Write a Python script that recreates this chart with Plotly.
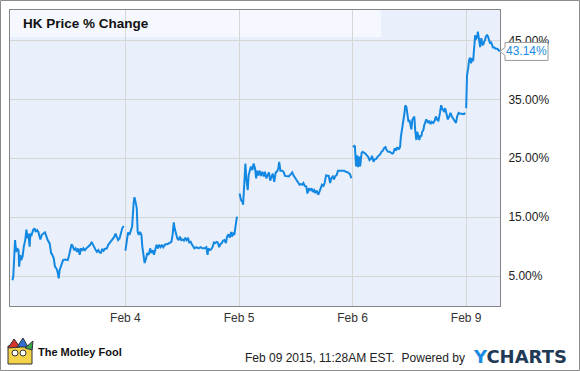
import plotly.graph_objects as go

# ---------------- data ----------------
day_labels = ["Feb 3", "Feb 4", "Feb 5", "Feb 6", "Feb 9"]
tick_labels = ["Feb 4", "Feb 5", "Feb 6", "Feb 9"]
session_minutes = 390  # 9:30 - 16:00

feb3_min = [2, 5, 11, 15, 18, 23, 25, 29, 32, 37, 41, 46, 50, 54, 57, 61, 64, 68, 73, 78, 82, 87, 91, 95, 98,
            103, 110, 114, 119, 123, 130, 135, 139, 144, 148, 153, 157, 161, 164, 169, 176, 183, 192, 196, 201,
            205, 210, 214, 219, 224, 228, 233, 237, 242, 246, 251, 256, 262, 269, 274, 278, 283, 288, 292, 297,
            301, 306, 310, 315, 319, 326, 331, 338, 345, 351, 356, 360, 365, 370, 374, 379, 384]
feb3_pct = [4.3, 4.9, 11.1, 9.1, 9.7, 9.4, 6.6, 8.6, 7.7, 8.3, 10.0, 11.1, 12.9, 11.4, 12.2, 10.0, 12.2, 12.0, 12.8,
            13.1, 12.5, 12.8, 12.5, 11.4, 11.2, 12.0, 12.2, 12.4, 11.7, 11.1, 10.5, 8.9, 8.6, 8.0, 6.6, 6.3, 5.7,
            4.6, 6.0, 6.7, 7.7, 7.8, 7.7, 8.4, 9.4, 10.4, 10.0, 9.4, 9.7, 9.1, 9.7, 8.6, 9.7, 9.3, 9.7, 9.4, 9.7,
            10.0, 10.3, 10.8, 10.3, 9.7, 9.4, 9.1, 9.4, 9.0, 8.95, 9.6, 9.3, 9.6, 9.7, 10.3, 10.8, 11.1, 11.6,
            12.2, 11.7, 11.1, 11.4, 12.2, 13.1, 13.5]

feb4_min = [0, 5, 9, 14, 18, 23, 28, 31, 36, 39, 42, 46, 50, 55, 58, 62, 66, 71, 75, 80, 85, 89, 94, 98, 103, 107,
            112, 116, 121, 126, 130, 137, 144, 151, 158, 162, 166, 169, 173, 178, 183, 187, 192, 196, 201, 205,
            210, 215, 219, 224, 228, 233, 237, 244, 251, 258, 265, 272, 278, 282, 285, 290, 294, 299, 304, 308,
            313, 317, 322, 326, 331, 335, 340, 345, 349, 354, 358, 363, 366, 370, 374, 378, 381, 383]
feb4_pct = [9.3, 11.1, 12.4, 12.0, 12.5, 13.4, 17.3, 18.4, 17.3, 16.5, 12.5, 12.0, 12.5, 12.0, 10.0, 8.3, 7.2, 8.0,
            8.9, 8.6, 9.7, 8.9, 9.4, 8.6, 9.7, 10.3, 9.7, 10.3, 9.9, 10.3, 9.9, 10.4, 10.4, 10.6, 10.8, 12.0, 14.1,
            13.1, 12.1, 11.4, 11.1, 11.7, 11.1, 11.2, 11.0, 11.5, 11.1, 11.5, 10.7, 10.8, 10.4, 10.1, 9.7, 9.9,
            9.7, 9.9, 9.7, 9.7, 9.9, 8.6, 9.7, 9.4, 9.5, 9.9, 10.7, 10.6, 10.8, 10.7, 9.9, 10.4, 10.6, 11.0, 11.1,
            10.6, 11.7, 12.1, 11.5, 12.5, 11.7, 12.2, 12.0, 13.4, 14.8, 15.1]

feb5_min = [2, 7, 12, 14, 18, 22, 25, 30, 33, 37, 41, 46, 50, 55, 59, 62, 66, 71, 75, 80, 85, 89, 94, 98, 103, 107,
            112, 116, 121, 126, 130, 135, 138, 142, 148, 153, 158, 164, 171, 178, 183, 187, 194, 199, 203, 208,
            212, 217, 221, 226, 231, 235, 240, 244, 249, 253, 258, 262, 267, 272, 276, 281, 285, 290, 294, 299,
            304, 308, 313, 317, 322, 326, 331, 335, 340, 347, 354, 361, 367, 374, 381, 386]
feb5_pct = [19.0, 17.9, 17.6, 17.1, 20.5, 24.1, 21.6, 19.6, 22.1, 23.1, 23.6, 23.0, 24.1, 23.3, 21.6, 22.9, 22.1,
            22.9, 22.0, 22.7, 21.9, 22.7, 21.6, 22.1, 22.6, 21.2, 22.1, 22.4, 21.0, 22.6, 22.7, 23.3, 24.4, 22.9,
            22.9, 22.7, 22.0, 21.9, 21.9, 22.3, 22.6, 22.1, 21.6, 21.3, 20.8, 20.5, 20.6, 20.5, 20.8, 20.3, 20.2,
            19.0, 19.9, 19.6, 19.9, 19.3, 19.6, 19.1, 19.5, 18.8, 19.3, 20.2, 20.5, 20.3, 20.8, 22.1, 22.1, 22.0,
            20.8, 21.6, 21.9, 21.4, 22.0, 22.1, 22.9, 22.9, 22.9, 22.9, 22.7, 22.6, 22.3, 21.6]

feb6_min = [1, 6, 8, 12, 16, 19, 23, 26, 31, 35, 40, 44, 49, 54, 58, 63, 67, 72, 76, 81, 85, 90, 95, 99, 104, 108,
            113, 117, 122, 127, 131, 136, 140, 145, 149, 154, 158, 163, 166, 170, 174, 178, 181, 185, 188, 192,
            195, 198, 202, 205, 209, 212, 215, 219, 222, 226, 229, 233, 236, 239, 243, 246, 250, 253, 257, 260,
            263, 268, 272, 277, 282, 286, 291, 295, 300, 304, 309, 314, 318, 323, 327, 332, 336, 341, 345, 350,
            355, 359, 364, 368, 375, 382, 387]
feb6_pct = [26.9, 27.1, 27.0, 23.6, 25.5, 23.5, 25.3, 23.6, 25.9, 26.1, 25.9, 25.8, 25.5, 25.2, 24.7, 24.9, 25.4,
            24.4, 24.8, 24.9, 25.2, 25.4, 25.7, 26.1, 26.3, 26.7, 26.9, 26.4, 26.1, 26.1, 25.9, 25.8, 25.9, 26.7,
            26.3, 26.9, 26.5, 26.9, 28.7, 29.8, 31.5, 32.6, 34.0, 33.7, 32.6, 31.2, 31.5, 30.6, 29.9, 31.5, 31.8,
            32.1, 29.8, 28.1, 29.5, 28.4, 28.1, 28.9, 28.7, 29.5, 29.8, 30.6, 31.2, 31.6, 31.2, 31.0, 31.4, 30.8,
            31.2, 31.0, 31.4, 32.1, 31.5, 31.4, 32.7, 34.0, 33.3, 33.0, 33.5, 32.6, 31.6, 32.1, 32.7, 32.1, 31.8,
            31.5, 31.0, 32.1, 32.7, 32.6, 32.5, 32.5, 32.7]

feb9_min = [0, 1, 3, 7, 10, 14, 17, 20, 24, 26, 28, 31, 33, 35, 38, 40, 42, 46, 48, 50, 52, 55, 58, 62, 65, 68, 72,
            75, 79, 82, 85, 89, 92, 97, 101, 106, 109, 115]
feb9_pct = [33.5, 37.2, 39.1, 40.3, 41.7, 42.1, 41.1, 42.0, 41.5, 42.8, 45.1, 45.9, 45.1, 45.7, 45.4, 46.5, 45.9,
            44.8, 43.9, 44.5, 45.4, 44.5, 44.2, 44.8, 45.1, 45.7, 45.9, 45.7, 45.1, 44.5, 44.8, 44.1, 43.8, 43.8,
            43.6, 43.6, 43.5, 43.14]

y_ticks = [5, 15, 25, 35, 45]
last_value = 43.14

# ---------------- build series ----------------
days_min = [feb3_min, feb4_min, feb5_min, feb6_min, feb9_min]
days_pct = [feb3_pct, feb4_pct, feb5_pct, feb6_pct, feb9_pct]
xs, ys = [], []
for d, (mins, pcts) in enumerate(zip(days_min, days_pct)):
    if d > 0:
        xs.append(None)
        ys.append(None)
    for m, p in zip(mins, pcts):
        xs.append(d * session_minutes + m)
        ys.append(p)

W, H = 580, 371
ML, MR, MT, MB = 10, 80, 10, 65
PW, PH = W - ML - MR, H - MT - MB
Y0, Y1 = -0.09, 50.18


def px(x):
    return (x - ML) / PW


def py(y):
    return (H - MB - y) / PH


line_color = "#1388e3"
fig = go.Figure()
fig.add_trace(go.Scatter(x=xs, y=ys, mode="lines", line=dict(color=line_color, width=2),
                         connectgaps=False, hoverinfo="skip", showlegend=False))

shapes = []
# title band
shapes.append(dict(type="rect", xref="paper", yref="paper", x0=0, x1=px(381), y0=py(37), y1=1,
                   fillcolor="#f5f8fe", line=dict(width=0), layer="below"))
# outer border
shapes.append(dict(type="rect", xref="paper", yref="paper", x0=px(0.5), x1=px(W - 0.5), y0=py(H - 0.5),
                   y1=py(0.5), line=dict(color="#8c8c8c", width=1), fillcolor="rgba(0,0,0,0)", layer="above"))
# last-value callout
yv = (last_value - Y0) / (Y1 - Y0)
shapes.append(dict(type="path", xref="paper", yref="paper", xsizemode="pixel", ysizemode="pixel",
                   xanchor=1.0, yanchor=yv,
                   path="M0,0 L5,4 L5,9 L48,9 L48,-9 L5,-9 L5,-4 Z",
                   fillcolor="white", line=dict(color="#9a9a9a", width=1), layer="above"))
# simple jester logo
shapes += [
    dict(type="rect", xref="paper", yref="paper", x0=px(8), x1=px(32), y0=py(364), y1=py(346),
         fillcolor="#f4d24a", line=dict(color="#333", width=1), layer="above"),
    dict(type="path", xref="paper", yref="paper",
         path=f"M {px(8)},{py(348)} L {px(14)},{py(339)} L {px(20)},{py(347)} Z",
         fillcolor="#d8342c", line=dict(color="#333", width=1), layer="above"),
    dict(type="path", xref="paper", yref="paper",
         path=f"M {px(17)},{py(347)} L {px(23)},{py(338)} L {px(28)},{py(347)} Z",
         fillcolor="#2f6fd0", line=dict(color="#333", width=1), layer="above"),
    dict(type="path", xref="paper", yref="paper",
         path=f"M {px(25)},{py(348)} L {px(33)},{py(341)} L {px(32)},{py(350)} Z",
         fillcolor="#3aa64a", line=dict(color="#333", width=1), layer="above"),
    dict(type="circle", xref="paper", yref="paper", x0=px(12), x1=px(18), y0=py(356), y1=py(350),
         fillcolor="white", line=dict(color="#333", width=1), layer="above"),
    dict(type="circle", xref="paper", yref="paper", x0=px(20), x1=px(26), y0=py(356), y1=py(350),
         fillcolor="white", line=dict(color="#333", width=1), layer="above"),
]

annotations = [
    dict(xref="paper", yref="paper", x=px(21), y=py(24), xanchor="left", yanchor="middle",
         text="<b>HK Price % Change</b>", showarrow=False,
         font=dict(family="Liberation Sans, Arial", size=13.5, color="#111")),
    dict(xref="paper", yref="paper", x=1.0, y=yv, xshift=26.5, xanchor="center", yanchor="middle",
         text=f"{last_value:.2f}%", showarrow=False,
         font=dict(family="Liberation Sans, Arial", size=12, color="#1a8ae0")),
    dict(xref="paper", yref="paper", x=px(36), y=py(352), xanchor="left", yanchor="middle",
         text="<b>The Motley Fool</b>", showarrow=False,
         font=dict(family="Liberation Sans, Arial", size=11, color="#111")),
    dict(xref="paper", yref="paper", x=px(467), y=py(358), xanchor="right", yanchor="middle",
         text="Feb 09 2015, 11:28AM EST.  Powered by", showarrow=False,
         font=dict(family="Liberation Sans, Arial", size=12, color="#222")),
    dict(xref="paper", yref="paper", x=px(471), y=py(356.5), xanchor="left", yanchor="middle",
         text="<b><span style='color:#1a8ae0'>Y</span>CHARTS</b>", showarrow=False,
         font=dict(family="DejaVu Sans, Verdana", size=18, color="#1f3a56")),
]

fig.update_layout(
    width=W, height=H, margin=dict(l=ML, r=MR, t=MT, b=MB),
    paper_bgcolor="white", plot_bgcolor="#eaf0fb",
    shapes=shapes, annotations=annotations, showlegend=False,
    xaxis=dict(range=[-6.3, 1676.2], tickvals=[session_minutes * (i + 1) for i in range(len(tick_labels))],
               ticktext=tick_labels, showgrid=True, gridcolor="#d6d6d6", gridwidth=1, zeroline=False,
               showline=True, mirror=True, linecolor="#858585", linewidth=1, ticks="",
               tickfont=dict(family="Liberation Sans, Arial", size=12, color="#333"), ticklabelstandoff=1),
    yaxis=dict(range=[Y0, Y1], side="right", tickvals=y_ticks, ticktext=[f"{v:.2f}%" for v in y_ticks],
               showgrid=True, gridcolor="#d6d6d6", gridwidth=1, zeroline=False,
               showline=True, mirror=True, linecolor="#858585", linewidth=1, ticks="",
               tickfont=dict(family="Liberation Sans, Arial", size=12, color="#222"), ticklabelstandoff=5),
)

fig.write_html("out.html")
